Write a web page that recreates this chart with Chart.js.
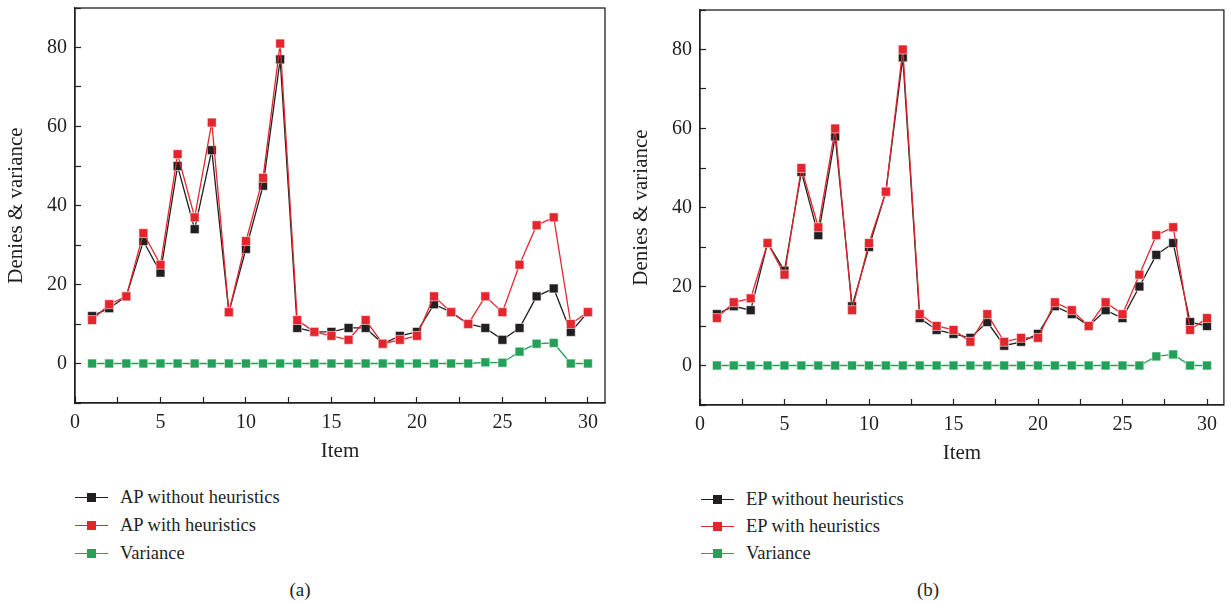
<!DOCTYPE html>
<html>
<head>
<meta charset="utf-8">
<title>Denies and variance</title>
<script src="https://cdn.jsdelivr.net/npm/chart.js@4.4.0/dist/chart.umd.min.js"></script>
<style>
	body { margin: 0; background: #fff; width: 1231px; height: 603px; position: relative; overflow: hidden;
		font-family: "Liberation Serif", "Times New Roman", serif; color: #231f20; }
	canvas { position: absolute; }
	.legend { position: absolute; font-size: 18.5px; }
	.legend .row { display: flex; align-items: center; }
	.mark { position: relative; width: 33px; height: 9px; margin-right: 12px; }
	.mark .ln { position: absolute; left: 0; right: 0; top: 4px; height: 1.4px; }
	.mark .sq { position: absolute; left: 12px; top: 0; width: 9px; height: 9px; }
	.caption { position: absolute; font-size: 19px; line-height: 20px; transform: translateX(-50%); }
</style>
</head>
<body>
<canvas id="chartA" width="615" height="470" style="left:0;top:0"></canvas>
<canvas id="chartB" width="606" height="472" style="left:625px;top:0"></canvas>
<div class="legend" id="legendA" style="left:75px;top:483px"></div>
<div class="legend" id="legendB" style="left:701px;top:486px"></div>
<div class="caption" style="left:300px;top:580px">(a)</div>
<div class="caption" style="left:928px;top:580px">(b)</div>

<script>
	// item numbers on the x axis
	var items = [1, 2, 3, 4, 5, 6, 7, 8, 9, 10, 11, 12, 13, 14, 15, 16, 17, 18, 19, 20, 21, 22, 23, 24, 25, 26, 27, 28, 29, 30];

	// (a) AP
	var apWithout = [12, 14, 17, 31, 23, 50, 34, 54, 13, 29, 45, 77, 9, 8, 8, 9, 9, 5, 7, 8, 15, 13, 10, 9, 6, 9, 17, 19, 8, 13];
	var apWith = [11, 15, 17, 33, 25, 53, 37, 61, 13, 31, 47, 81, 11, 8, 7, 6, 11, 5, 6, 7, 17, 13, 10, 17, 13, 25, 35, 37, 10, 13];
	var apVariance = [0, 0, 0, 0, 0, 0, 0, 0, 0, 0, 0, 0, 0, 0, 0, 0, 0, 0, 0, 0, 0, 0, 0, 0.3, 0.2, 3, 5, 5.2, 0, 0];

	// (b) EP
	var epWithout = [13, 15, 14, 31, 24, 49, 33, 58, 15, 30, 44, 78, 12, 9, 8, 7, 11, 5, 6, 8, 15, 13, 10, 14, 12, 20, 28, 31, 11, 10];
	var epWith = [12, 16, 17, 31, 23, 50, 35, 60, 14, 31, 44, 80, 13, 10, 9, 6, 13, 6, 7, 7, 16, 14, 10, 16, 13, 23, 33, 35, 9, 12];
	var epVariance = [0, 0, 0, 0, 0, 0, 0, 0, 0, 0, 0, 0, 0, 0, 0, 0, 0, 0, 0, 0, 0, 0, 0, 0, 0, 0, 2.3, 2.8, 0, 0];

	var yTickLabels = [0, 20, 40, 60, 80];
	var xTickLabels = [0, 5, 10, 15, 20, 25, 30];

	var $black = '#231f20';
	var $red = '#e3262d';
	var $green = '#23a159';
	var fontFamily = '"Liberation Serif", "Times New Roman", serif';

	function points(values) {
		return values.map(function (v, i) { return { x: items[i], y: v }; });
	}

	function series(label, values, color, order) {
		return {
			label: label,
			data: points(values),
			borderColor: color,
			backgroundColor: color,
			borderWidth: 1.3,
			pointStyle: 'rect',
			pointRadius: 6.3,
			pointBorderWidth: 0.8,
			pointBorderColor: 'rgba(255,255,255,0.7)',
			pointBackgroundColor: color,
			order: order
		};
	}

	// box round the plot area
	var framePlugin = {
		id: 'frame',
		afterDraw: function (chart) {
			var a = chart.chartArea, ctx = chart.ctx;
			ctx.save();
			ctx.strokeStyle = $black;
			ctx.lineWidth = 1.3;
			ctx.strokeRect(a.left, a.top, a.right - a.left, a.bottom - a.top);
			ctx.restore();
		}
	};

	function makeChart(id, datasets, pad) {
		var ctx = document.getElementById(id).getContext('2d');
		return new Chart(ctx, {
			type: 'line',
			plugins: [framePlugin],
			data: { datasets: datasets },
			options: {
				responsive: false,
				animation: false,
				devicePixelRatio: 1,
				layout: { padding: pad },
				plugins: { legend: { display: false }, tooltip: { enabled: false } },
				scales: {
					x: {
						type: 'linear',
						min: 0,
						max: 31,
						afterFit: function (s) { s.height = 67; s.paddingLeft = 0; s.paddingRight = 0; },
						border: { color: $black, width: 1.3 },
						grid: { drawOnChartArea: false, tickLength: -6, tickColor: $black, tickWidth: 1.2 },
						ticks: {
							stepSize: 2.5,
							includeBounds: false,
							padding: 14,
							maxRotation: 0,
							autoSkip: false,
							color: $black,
							font: { family: fontFamily, size: 20 },
							callback: function (v) { return xTickLabels.indexOf(v) >= 0 ? String(v) : ''; }
						},
						title: { display: true, text: 'Item', color: $black, font: { family: fontFamily, size: 21 }, padding: { top: 0, bottom: 6 } }
					},
					y: {
						min: -10,
						max: 90,
						afterFit: function (s) { s.width = 75; s.paddingTop = 0; s.paddingBottom = 0; },
						border: { color: $black, width: 1.3 },
						grid: { drawOnChartArea: false, tickLength: -6, tickColor: $black, tickWidth: 1.2 },
						ticks: {
							stepSize: 10,
							includeBounds: false,
							padding: 14,
							autoSkip: false,
							color: $black,
							font: { family: fontFamily, size: 20 },
							callback: function (v) { return yTickLabels.indexOf(v) >= 0 ? String(v) : ''; }
						},
						title: { display: true, text: 'Denies & variance', color: $black, font: { family: fontFamily, size: 21 }, padding: { top: 4, bottom: 0 } }
					}
				}
			}
		});
	}

	function buildLegend(id, chart, rowHeight) {
		var box = document.getElementById(id);
		chart.data.datasets.forEach(function (ds) {
			var row = document.createElement('div');
			row.className = 'row';
			row.style.height = rowHeight + 'px';
			row.innerHTML = '<span class="mark"><span class="ln" style="background:' + ds.borderColor + '"></span>' +
				'<span class="sq" style="background:' + ds.borderColor + '"></span></span><span>' + ds.label + '</span>';
			box.appendChild(row);
		});
	}

	var chartA = makeChart('chartA', [
		series('AP without heuristics', apWithout, $black, 3),
		series('AP with heuristics', apWith, $red, 2),
		series('Variance', apVariance, $green, 1)
	], { top: 8, right: 10, left: 0, bottom: 0 });

	var chartB = makeChart('chartB', [
		series('EP without heuristics', epWithout, $black, 3),
		series('EP with heuristics', epWith, $red, 2),
		series('Variance', epVariance, $green, 1)
	], { top: 10, right: 2, left: 0, bottom: 0 });

	buildLegend('legendA', chartA, 28);
	buildLegend('legendB', chartB, 27);
</script>
</body>
</html>
